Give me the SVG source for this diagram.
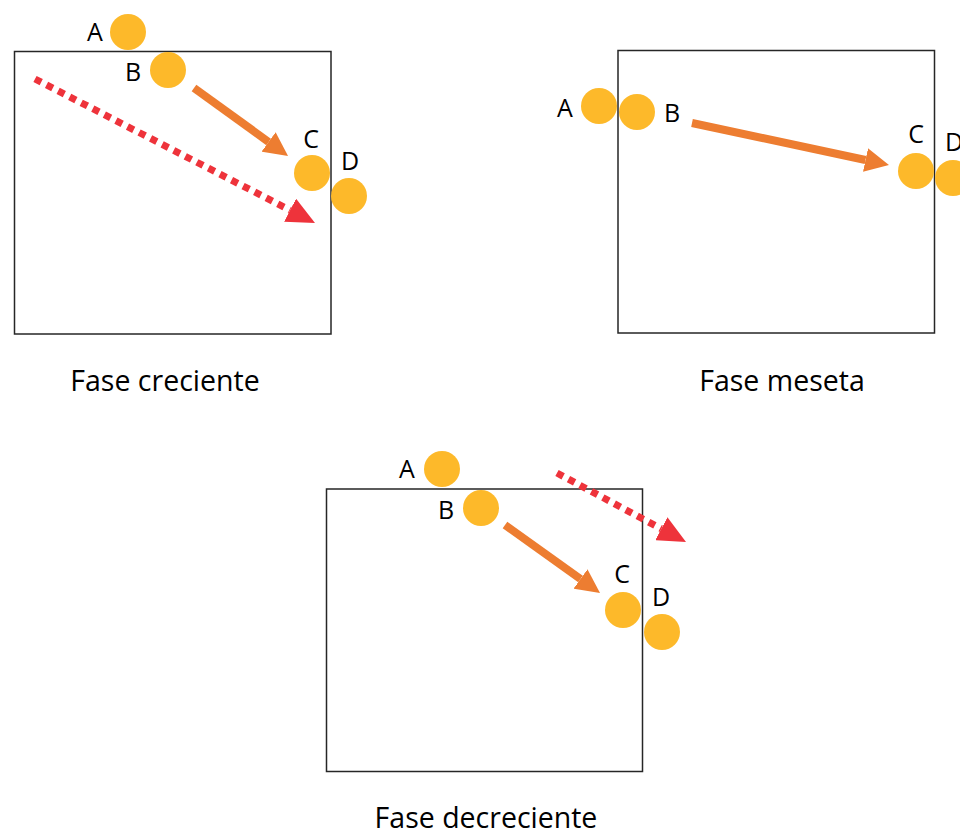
<svg xmlns="http://www.w3.org/2000/svg" width="960" height="834" viewBox="0 0 960 834">
<defs>
<style>
.frame{fill:none;stroke:#262626;stroke-width:1.5}
.ball{fill:#FDB92A}
.lbl{font-family:"Open Sans","Liberation Sans",sans-serif;font-size:25px;fill:#000;text-anchor:middle}
.cap{font-family:"Open Sans","Liberation Sans",sans-serif;font-size:28.5px;fill:#000;text-anchor:middle}
.move{stroke:#ED7D31;stroke-width:8;fill:none}
.trend{stroke:#EE333B;stroke-width:7;stroke-dasharray:7 6;fill:none}
</style>
<marker id="headO" viewBox="0 0 24 24" refX="0" refY="12" markerWidth="24" markerHeight="24" markerUnits="userSpaceOnUse" orient="auto">
<path d="M0,0 L24,12 L0,24 z" fill="#ED7D31"/>
</marker>
<marker id="headR" viewBox="0 0 28 26" refX="0" refY="13" markerWidth="28" markerHeight="26" markerUnits="userSpaceOnUse" orient="auto">
<path d="M0,0 L28,13 L0,26 z" fill="#EE333B"/>
</marker>
</defs>
<rect width="960" height="834" fill="#fff"/>

<g id="panel-creciente">
<rect class="frame" x="14.5" y="51.5" width="316.5" height="282.5"/>
<g id="c1-A"><circle class="ball" cx="128" cy="32" r="18"/><text class="lbl" x="95" y="41">A</text></g>
<g id="c1-B"><circle class="ball" cx="168" cy="70" r="18"/><text class="lbl" x="133" y="81">B</text></g>
<g id="c1-C"><circle class="ball" cx="312" cy="173" r="18"/><text class="lbl" x="311" y="148">C</text></g>
<g id="c1-D"><circle class="ball" cx="349" cy="196" r="18"/><text class="lbl" x="350" y="170">D</text></g>
<text class="cap" x="165" y="391">Fase creciente</text>
</g>

<g id="panel-meseta">
<rect class="frame" x="618" y="50.5" width="316.5" height="282.5"/>
<g id="c2-A"><circle class="ball" cx="599" cy="106" r="18"/><text class="lbl" x="565" y="117">A</text></g>
<g id="c2-B"><circle class="ball" cx="637" cy="112" r="18"/><text class="lbl" x="672" y="122">B</text></g>
<g id="c2-C"><circle class="ball" cx="916" cy="171" r="18"/><text class="lbl" x="916" y="143">C</text></g>
<g id="c2-D"><circle class="ball" cx="953" cy="178" r="18"/><text class="lbl" x="954" y="151">D</text></g>
<text class="cap" x="782" y="391">Fase meseta</text>
</g>

<g id="panel-decreciente">
<rect class="frame" x="326.5" y="489" width="316" height="282.5"/>
<g id="c3-A"><circle class="ball" cx="442" cy="469" r="18"/><text class="lbl" x="407" y="478">A</text></g>
<g id="c3-B"><circle class="ball" cx="481" cy="508" r="18"/><text class="lbl" x="446" y="519">B</text></g>
<g id="c3-C"><circle class="ball" cx="623" cy="610" r="18"/><text class="lbl" x="622" y="583">C</text></g>
<g id="c3-D"><circle class="ball" cx="662" cy="632" r="18"/><text class="lbl" x="661" y="606">D</text></g>
<text class="cap" x="486" y="828">Fase decreciente</text>
</g>

<g id="connectors">
<line class="move" x1="194" y1="88" x2="268.6" y2="141.9" marker-end="url(#headO)"/>
<line class="trend" x1="35" y1="79" x2="290.1" y2="210.2" marker-end="url(#headR)"/>
<line class="move" x1="692" y1="123" x2="865.5" y2="160" marker-end="url(#headO)"/>
<line class="move" x1="505" y1="525" x2="580.5" y2="579" marker-end="url(#headO)"/>
<line class="trend" x1="557" y1="473" x2="661.3" y2="528.8" marker-end="url(#headR)"/>
</g>
</svg>
